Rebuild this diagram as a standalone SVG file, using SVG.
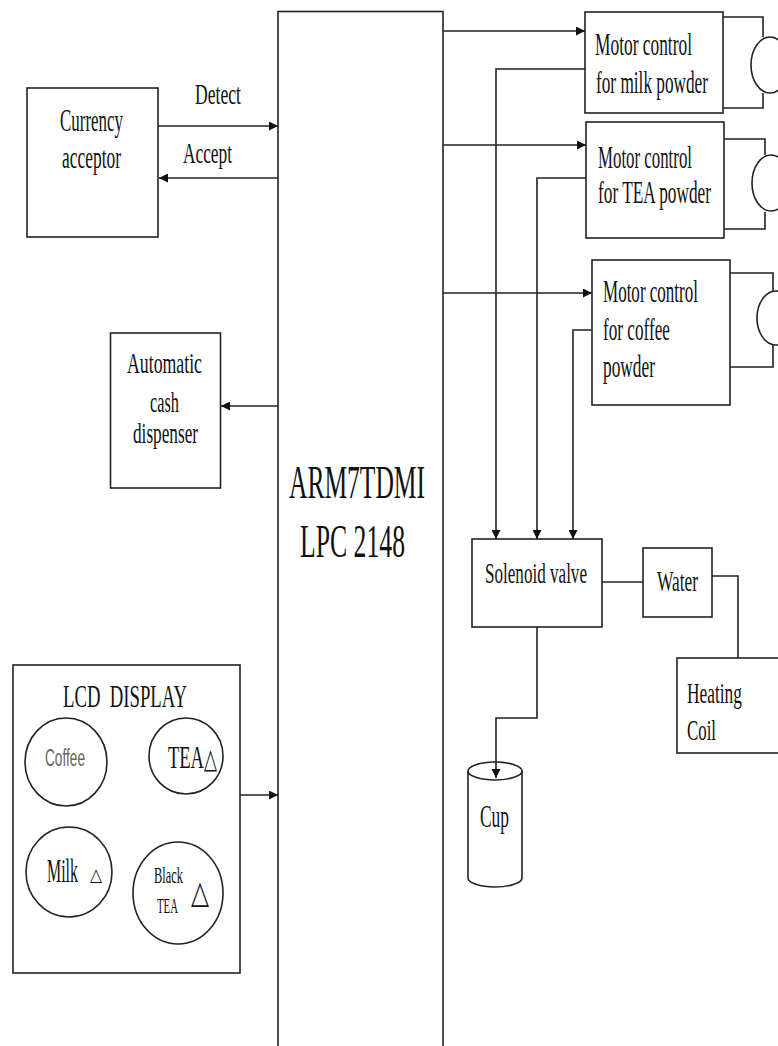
<svg xmlns="http://www.w3.org/2000/svg" width="778" height="1046" viewBox="0 0 778 1046">
<style>
.box{fill:#fff;stroke:#222;stroke-width:1.6}
.ln{fill:none;stroke:#222;stroke-width:1.6}
.t{font-family:"Liberation Serif","Times New Roman",serif;fill:#111}
.s{font-family:"Liberation Sans",Arial,sans-serif;fill:#666}
.tri{font-family:"DejaVu Sans",sans-serif;fill:#111}
</style>
<defs>
<marker id="ah" viewBox="0 0 10 10" refX="10" refY="5" markerWidth="9" markerHeight="9" markerUnits="userSpaceOnUse" orient="auto">
<path d="M0,0 L10,5 L0,10 z" fill="#111"/>
</marker>
</defs>
<rect width="778" height="1046" fill="#fff"/>

<g id="arm">
<rect class="box" x="278" y="11.5" width="165" height="1060"/>
<text class="t" x="289" y="498" style="font-size:46px" textLength="136" lengthAdjust="spacingAndGlyphs">ARM7TDMI</text>
<text class="t" x="300" y="557" style="font-size:46px" textLength="105" lengthAdjust="spacingAndGlyphs">LPC 2148</text>
</g>

<g id="currency">
<rect class="box" x="27" y="88" width="131" height="149"/>
<text class="t" x="60" y="131" style="font-size:31px" textLength="63" lengthAdjust="spacingAndGlyphs">Currency</text>
<text class="t" x="62" y="168" style="font-size:31px" textLength="59" lengthAdjust="spacingAndGlyphs">acceptor</text>
</g>

<g id="cash">
<rect class="box" x="110.5" y="333" width="110" height="155"/>
<text class="t" x="127" y="373" style="font-size:29px" textLength="75" lengthAdjust="spacingAndGlyphs">Automatic</text>
<text class="t" x="150" y="412" style="font-size:29px" textLength="29" lengthAdjust="spacingAndGlyphs">cash</text>
<text class="t" x="133" y="443" style="font-size:29px" textLength="65" lengthAdjust="spacingAndGlyphs">dispenser</text>
</g>

<g id="lcd">
<rect class="box" x="13" y="665" width="227" height="308"/>
<text class="t" x="63" y="707" style="font-size:31px;white-space:pre" textLength="124" lengthAdjust="spacingAndGlyphs">LCD  DISPLAY</text>
<ellipse class="ln" cx="66" cy="762" rx="41" ry="44"/>
<text class="s" x="45" y="766" style="font-size:23px" textLength="40" lengthAdjust="spacingAndGlyphs">Coffee</text>
<ellipse class="ln" cx="186" cy="756" rx="37" ry="38"/>
<text class="t" x="168" y="768" style="font-size:31px" textLength="36" lengthAdjust="spacingAndGlyphs">TEA</text>
<text class="tri" x="204" y="768" style="font-size:28px" textLength="13" lengthAdjust="spacingAndGlyphs">△</text>
<ellipse class="ln" cx="69" cy="872" rx="43" ry="45"/>
<text class="t" x="47" y="882" style="font-size:33px" textLength="31" lengthAdjust="spacingAndGlyphs">Milk</text>
<text class="tri" x="90" y="881" style="font-size:18px" textLength="12" lengthAdjust="spacingAndGlyphs">△</text>
<ellipse class="ln" cx="178" cy="893" rx="45" ry="51"/>
<text class="t" x="154" y="883" style="font-size:24px" textLength="29" lengthAdjust="spacingAndGlyphs">Black</text>
<text class="t" x="157" y="913" style="font-size:22px" textLength="21" lengthAdjust="spacingAndGlyphs">TEA</text>
<text class="tri" x="191" y="903" style="font-size:32px" textLength="18" lengthAdjust="spacingAndGlyphs">△</text>
</g>

<g id="motor-milk">
<rect class="box" x="585" y="12" width="138" height="101"/>
<text class="t" x="595" y="55" style="font-size:32px" textLength="97" lengthAdjust="spacingAndGlyphs">Motor control</text>
<text class="t" x="596" y="93" style="font-size:32px" textLength="112" lengthAdjust="spacingAndGlyphs">for milk powder</text>
<path class="ln" d="M723,17 H763 V37 M763,93 V108 H723"/>
<ellipse class="ln" cx="770" cy="65" rx="19" ry="28"/>
</g>

<g id="motor-tea">
<rect class="box" x="586" y="122" width="138" height="116"/>
<text class="t" x="598" y="168" style="font-size:32px" textLength="94" lengthAdjust="spacingAndGlyphs">Motor control</text>
<text class="t" x="598" y="203" style="font-size:32px" textLength="113" lengthAdjust="spacingAndGlyphs">for TEA powder</text>
<path class="ln" d="M724,139 H765 V155 M765,212 V229 H724"/>
<ellipse class="ln" cx="771" cy="183" rx="19" ry="28"/>
</g>

<g id="motor-coffee">
<rect class="box" x="592" y="260" width="138" height="145"/>
<text class="t" x="603" y="302" style="font-size:32px" textLength="95" lengthAdjust="spacingAndGlyphs">Motor control</text>
<text class="t" x="603" y="340" style="font-size:32px" textLength="67" lengthAdjust="spacingAndGlyphs">for coffee</text>
<text class="t" x="603" y="377" style="font-size:32px" textLength="52" lengthAdjust="spacingAndGlyphs">powder</text>
<path class="ln" d="M730,273 H773 V292 M773,345 V367 H730"/>
<ellipse class="ln" cx="776" cy="318" rx="19" ry="27"/>
</g>

<g id="solenoid">
<rect class="box" x="472" y="539" width="130" height="88"/>
<text class="t" x="485" y="583" style="font-size:30px" textLength="102" lengthAdjust="spacingAndGlyphs">Solenoid valve</text>
</g>

<g id="water">
<rect class="box" x="643" y="548" width="69" height="69"/>
<text class="t" x="657" y="591" style="font-size:29px" textLength="41" lengthAdjust="spacingAndGlyphs">Water</text>
</g>

<g id="heating">
<rect class="box" x="677" y="658" width="110" height="95"/>
<text class="t" x="687" y="703" style="font-size:29px" textLength="55" lengthAdjust="spacingAndGlyphs">Heating</text>
<text class="t" x="687" y="740" style="font-size:29px" textLength="29" lengthAdjust="spacingAndGlyphs">Coil</text>
</g>

<g id="cup">
<path class="box" d="M468,771 V878 A27,9 0 0 0 522,878 V771"/>
<ellipse class="box" cx="495" cy="771" rx="27" ry="9"/>
<text class="t" x="480" y="827" style="font-size:32px" textLength="29" lengthAdjust="spacingAndGlyphs">Cup</text>
</g>

<g id="connectors">
<line class="ln" x1="158" y1="126" x2="278" y2="126" marker-end="url(#ah)"/>
<text class="t" x="195" y="104" style="font-size:29px" textLength="46" lengthAdjust="spacingAndGlyphs">Detect</text>
<line class="ln" x1="278" y1="178" x2="159" y2="178" marker-end="url(#ah)"/>
<text class="t" x="183" y="163" style="font-size:29px" textLength="49" lengthAdjust="spacingAndGlyphs">Accept</text>
<line class="ln" x1="278" y1="406" x2="221" y2="406" marker-end="url(#ah)"/>
<line class="ln" x1="240" y1="795" x2="278" y2="795" marker-end="url(#ah)"/>
<line class="ln" x1="443" y1="31" x2="585" y2="31" marker-end="url(#ah)"/>
<line class="ln" x1="443" y1="145" x2="586" y2="145" marker-end="url(#ah)"/>
<line class="ln" x1="443" y1="293" x2="592" y2="293" marker-end="url(#ah)"/>
<path class="ln" d="M585,69 H496 V539" marker-end="url(#ah)"/>
<path class="ln" d="M586,178 H537 V539" marker-end="url(#ah)"/>
<path class="ln" d="M592,330 H573 V539" marker-end="url(#ah)"/>
<line class="ln" x1="602" y1="582" x2="643" y2="582"/>
<path class="ln" d="M712,576 H738 V658"/>
<path class="ln" d="M537,627 V718 H496 V778" marker-end="url(#ah)"/>
</g>
</svg>
